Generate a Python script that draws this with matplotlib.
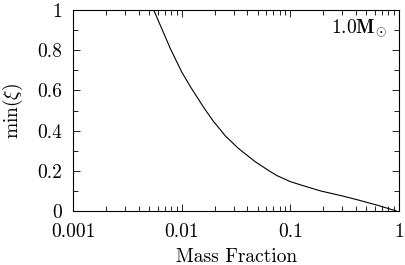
import matplotlib
matplotlib.use('Agg')
import matplotlib.pyplot as plt
from matplotlib.ticker import FixedLocator, LogLocator, MultipleLocator, NullFormatter

# curve
mass_fraction = [0.0055, 0.0078, 0.01, 0.0121, 0.0159, 0.0196, 0.0226, 0.025, 0.0334,
                 0.0475, 0.0653, 0.0753, 0.1, 0.124, 0.189, 0.3, 0.413, 0.65, 0.95]
min_xi = [1.0, 0.81, 0.69, 0.615, 0.515, 0.445, 0.405, 0.375, 0.31,
          0.245, 0.196, 0.176, 0.146, 0.13, 0.1, 0.075, 0.056, 0.027, 0.0]

xticks = [0.001, 0.01, 0.1, 1]
xticklabels = ['0.001', '0.01', '0.1', '1']
yticks = [0, 0.2, 0.4, 0.6, 0.8, 1]
yticklabels = ['0', '0.2', '0.4', '0.6', '0.8', '1']

plt.rcParams['font.family'] = 'serif'
plt.rcParams['font.serif'] = ['cmr10']
plt.rcParams['mathtext.fontset'] = 'cm'
plt.rcParams['axes.unicode_minus'] = False

fig = plt.figure(figsize=(4.06, 2.65), dpi=100)
ax = fig.add_axes([0.181, 0.204, 0.801, 0.758])

ax.plot(mass_fraction, min_xi, color='black', lw=0.8)

ax.set_xscale('log')
ax.set_xlim(0.001, 1)
ax.set_ylim(0, 1)

ax.xaxis.set_major_locator(FixedLocator(xticks))
ax.set_xticklabels(xticklabels)
ax.xaxis.set_minor_locator(LogLocator(base=10, subs=range(2, 10)))
ax.xaxis.set_minor_formatter(NullFormatter())
ax.set_yticks(yticks)
ax.set_yticklabels(yticklabels)
ax.yaxis.set_minor_locator(MultipleLocator(0.1))

ax.tick_params(which='both', direction='in', top=True, right=True,
               labelsize=14, width=0.6)
ax.tick_params(axis='x', pad=9)
ax.tick_params(axis='y', pad=8)
ax.tick_params(which='major', length=5)
ax.tick_params(which='minor', length=3.5)
for s in ax.spines.values():
    s.set_linewidth(0.8)

ax.set_xlabel('Mass Fraction', fontsize=14, labelpad=5)
ax.set_ylabel(r'min($\xi$)', fontsize=14, labelpad=9)

ax.text(0.963, 0.886, r'$\mathbf{1.0M}_{\odot}$', transform=ax.transAxes,
        ha='right', va='baseline', fontsize=14)

fig.savefig('out.png', dpi=100)
